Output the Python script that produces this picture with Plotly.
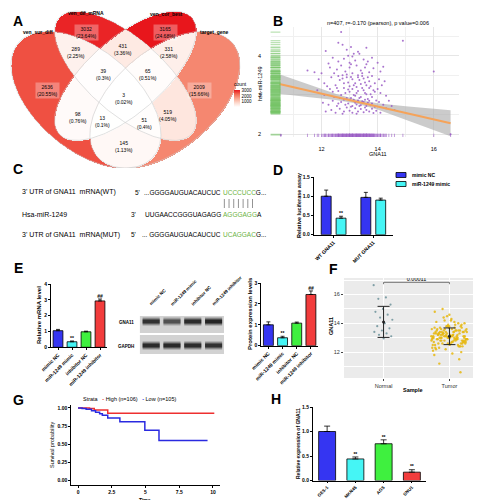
import numpy as np
import plotly.graph_objects as go

W, H = 481, 500
SANS = "Liberation Sans, Arial, sans-serif"

# ======================= DATA =======================
# A  Venn diagram
venn_set_names = ["ven_sur_diff", "ven_dif_mRNA", "ven_cor_best", "target_gene"]
venn_region_keys = ["A", "B", "C", "D", "AB", "BC", "CD", "ABC", "BCD", "ABCD", "AC", "BD", "ACD", "ABD", "AD"]
venn_counts = [2636, 3032, 3165, 2009, 289, 431, 331, 39, 65, 3, 98, 519, 13, 51, 145]
venn_percents = ["20.55%", "23.64%", "24.68%", "15.66%", "2.25%", "3.36%", "2.58%", "0.3%",
                 "0.51%", "0.02%", "0.76%", "4.05%", "0.1%", "0.4%", "1.13%"]
venn_colorbar_ticks = [1000, 2000, 3000]

# B  correlation scatter
b_title = "n=407, r=-0.170 (pearson), p value=0.006"
gna11_x = [
    12.7, 12.6, 12.75, 13.05, 12.9, 13.6, 14.9, 12.15, 13.3,
    12.4, 12.8, 13.1, 13.35, 12.6, 13.0, 13.5, 13.8, 12.95, 13.2, 14.0, 12.25, 13.65, 13.15,
    11.5, 11.75, 12.0, 12.3, 12.55, 12.7, 12.85, 13.0, 13.1, 13.25, 13.4, 13.55, 13.7, 13.85, 14.1, 12.9,
    13.3, 13.6, 12.45, 16.0, 13.05, 13.45, 12.75, 14.2,
    11.9, 12.1, 12.35, 12.5, 12.65, 12.8, 12.9, 13.0, 13.1, 13.2, 13.3, 13.4, 13.5, 13.6, 13.7, 13.8, 13.9,
    14.05, 14.25, 12.6, 12.95, 13.15, 13.35, 13.55, 13.75, 13.05, 12.75, 13.25, 13.65, 14.15, 12.2, 13.45,
    11.85, 12.1, 12.3, 12.45, 12.6, 12.7, 12.8, 12.9, 13.0, 13.1, 13.2, 13.3, 13.4, 13.5, 13.6, 13.7, 13.8,
    13.9, 14.0, 14.3, 12.55, 12.85, 13.05, 13.25, 13.45, 13.65, 13.85, 12.95, 13.15, 13.35, 13.55, 13.75,
    12.65, 14.1, 12.4,
    12.05, 12.25, 12.4, 12.55, 12.7, 12.85, 13.0, 13.1, 13.2, 13.3, 13.4, 13.5, 13.6, 13.7, 13.8, 13.9,
    14.05, 14.2, 14.4, 12.95, 13.15, 13.35, 13.55, 13.75, 12.8, 13.05, 13.25, 13.45, 13.65, 14.5, 12.6, 13.95,
    12.15, 12.35, 12.5, 12.65, 12.8, 12.9, 13.0, 13.1, 13.2, 13.3, 13.4, 13.5, 13.6, 13.7, 13.8, 13.95,
    14.1, 14.3, 12.75, 13.25, 13.55, 13.85, 14.6,
    10.55, 16.6]
mir1249_y = [
    4.6, 4.33, 4.28, 4.22, 4.15, 4.2, 4.38, 4.12, 4.1,
    3.95, 3.92, 3.98, 4.05, 3.85, 3.82, 3.9, 3.95, 4.0, 3.88, 3.82, 3.8, 3.85, 4.05,
    3.62, 3.58, 3.55, 3.7, 3.65, 3.75, 3.6, 3.7, 3.55, 3.75, 3.62, 3.7, 3.58, 3.68, 3.6, 3.52,
    3.5, 3.78, 3.55, 3.6, 3.78, 3.55, 3.5, 3.72,
    3.4, 3.3, 3.45, 3.25, 3.38, 3.3, 3.45, 3.22, 3.4, 3.3, 3.45, 3.28, 3.42, 3.25, 3.35, 3.48, 3.3,
    3.4, 3.35, 3.48, 3.32, 3.25, 3.38, 3.32, 3.22, 3.46, 3.42, 3.2, 3.45, 3.25, 3.22, 3.48,
    3.12, 3.0, 3.15, 2.95, 3.1, 3.0, 3.18, 2.92, 3.08, 3.15, 2.98, 3.1, 2.95, 3.12, 3.02, 3.18, 2.95,
    3.08, 3.15, 2.98, 3.18, 3.05, 2.92, 3.05, 3.18, 2.9, 3.12, 3.14, 3.0, 2.92, 3.05, 3.02,
    2.92, 3.05, 3.08,
    2.8, 2.75, 2.85, 2.72, 2.82, 2.75, 2.88, 2.72, 2.8, 2.86, 2.74, 2.82, 2.72, 2.85, 2.78, 2.7,
    2.82, 2.75, 2.85, 2.78, 2.88, 2.72, 2.88, 2.74, 2.88, 2.7, 2.76, 2.84, 2.8, 2.72, 2.78, 2.86,
    2.58, 2.62, 2.55, 2.65, 2.58, 2.68, 2.6, 2.55, 2.66, 2.58, 2.64, 2.56, 2.62, 2.58, 2.65, 2.6,
    2.55, 2.66, 2.52, 2.52, 2.68, 2.54, 2.62,
    1.98, 2.0]
fit_x = [10.5, 16.6]
fit_y = [3.28, 2.28]
band_x = [10.5, 11.5, 12.5, 13.2, 14.0, 15.0, 16.0, 16.6]
band_hi = [3.53, 3.29, 3.03, 2.89, 2.79, 2.71, 2.65, 2.61]
band_lo = [3.03, 2.95, 2.87, 2.79, 2.63, 2.37, 2.11, 1.95]

# C  binding sites
c_row_labels = ["3' UTR of GNA11&nbsp; mRNA(WT)", "Hsa-miR-1249", "3' UTR of GNA11&nbsp; mRNA(MUT)"]
c_primes = ["5'", "3'", "5'"]
c_seq_before = ["...GGGGAUGUACAUCUC", "UUGAACCGGGUAGAGG", "... GGGGAUGUACAUCUC"]
c_seq_site = ["UCCCUCC", "AGGGAGG", "UCAGGAC"]
c_seq_after = ["G...", "A", "G..."]

# D  luciferase
luc_groups = ["WT GNA11", "MUT GNA11"]
luc_series = ["mimic NC", "miR-1249 mimic"]
luc_nc = [1.0, 0.97]
luc_nc_err = [0.16, 0.13]
luc_mimic = [0.43, 0.90]
luc_mimic_err = [0.05, 0.05]
luc_mimic_sig = ["**", ""]

# E  mRNA / western blot / protein
e_groups = ["mimic NC", "miR-1249 mimic", "inhibitor NC", "miR-1249 inhibitor"]
mrna_level = [1.05, 0.35, 0.98, 2.93]
mrna_err = [0.08, 0.05, 0.04, 0.12]
mrna_sig = ["", "**", "", "##"]
protein_level = [1.0, 0.38, 1.08, 2.45]
protein_err = [0.14, 0.07, 0.05, 0.17]
protein_sig = ["", "**", "", "##"]
blot_rows = ["GNA11", "GAPDH"]
gna11_band = [0.85, 0.62, 0.9, 0.97]
gapdh_band = [0.9, 0.92, 0.9, 0.86]

# F  GNA11 expression Normal vs Tumor
f_groups = ["Normal", "Tumor"]
f_mean = [14.1, 13.1]
f_sd = [1.08, 0.58]
f_pvalue = "0.00011"
normal_y = [16.65, 15.8, 15.7, 15.3, 15.0, 14.8, 14.6, 14.4, 14.25, 14.0, 13.8, 13.65,
            13.5, 13.4, 13.3, 13.2, 13.1, 12.95]
tumor_y = [13.1, 12.8, 13.4, 12.6, 13.0, 13.7, 12.9, 13.3, 13.5, 12.7,
           13.2, 12.4, 13.8, 13.0, 12.9, 13.6, 13.1, 12.5, 13.3, 14.0,
           12.8, 13.4, 13.2, 12.3, 13.9, 13.0, 12.7, 13.5, 12.6, 13.1,
           14.2, 12.9, 13.3, 12.2, 13.6, 13.0, 12.8, 13.4, 13.7, 12.5,
           13.2, 14.4, 12.9, 13.1, 12.6, 13.8, 13.3, 12.1, 13.5, 13.0,
           12.7, 13.2, 14.1, 12.4, 13.6, 12.9, 13.4, 13.0, 12.8, 13.9,
           11.8, 13.1, 13.3, 12.6, 14.3, 12.9, 13.5, 13.2, 12.3, 13.7,
           13.0, 12.8, 14.6, 13.4, 12.5, 13.1, 13.6, 12.7, 13.3, 12.0,
           13.8, 13.0, 12.9, 13.2, 14.0, 12.6, 13.5, 11.5, 13.1, 12.8,
           13.4, 13.7, 12.4, 13.0, 14.8, 12.9, 13.3, 12.7, 13.6, 13.2,
           10.6, 13.1, 12.5, 13.9, 12.8, 13.4, 13.0, 12.2, 13.5, 14.2,
           12.9, 13.2, 11.2, 13.7, 12.6, 13.3, 13.0, 15.0, 12.8, 13.1,
           13.6, 12.4, 13.4, 12.9, 14.1, 13.2, 12.7, 13.8, 12.3, 13.0,
           13.5, 12.9, 11.9, 13.3, 12.6, 14.5, 13.1, 12.8, 13.4, 13.0]

# G  survival
g_strata = ["High (n=106)", "Low (n=105)"]
high_time = [0, 0.85, 1.2, 2.2, 10.1]
high_surv = [1.0, 0.99, 0.97, 0.925, 0.925]
low_time = [0, 0.3, 0.6, 1.0, 1.3, 1.6, 1.8, 2.2, 3.1, 4.95, 6.0, 9.6]
low_surv = [1.0, 0.99, 0.98, 0.96, 0.94, 0.92, 0.90, 0.86, 0.81, 0.69, 0.55, 0.55]
g_xticks = [0, 2.5, 5, 7.5, 10]
g_yticks = [0, 0.25, 0.5, 0.75, 1.0]

# H  cell lines
h_cells = ["GES-1", "MKN45", "AGS", "SNU1"]
h_rel = [1.0, 0.44, 0.75, 0.17]
h_err = [0.11, 0.04, 0.08, 0.05]
h_sig = ["", "**", "**", "**"]

# ======================= STYLE / HELPERS =======================
BLUE, CYAN, GREEN, RED = "#3535f2", "#45f5f5", "#3ff03f", "#f23c3c"
BAR4 = [BLUE, CYAN, GREEN, RED]


def fx(p):
    return p / W


def fy(p):
    return 1 - p / H


annotations = []
shapes = []


def note(text, x, y, size=6, bold=False, color="black", xanchor="center", yanchor="middle",
         angle=0, family=SANS, **kw):
    annotations.append(dict(text=text, x=fx(x), y=fy(y), xref="paper", yref="paper", showarrow=False,
                            xanchor=xanchor, yanchor=yanchor, textangle=angle,
                            font=dict(size=size, color=color, family=family,
                                      weight="bold" if bold else "normal"), **kw))


def gp_axis(dom, rng, **kw):
    d = dict(domain=dom, range=rng, showgrid=False, zeroline=False, showline=True, linecolor="black",
             linewidth=1, ticks="outside", ticklen=2, tickwidth=1, tickcolor="black", automargin=False,
             tickfont=dict(size=5, family=SANS, color="black", weight="bold"), fixedrange=True)
    d.update(kw)
    return d


fig = go.Figure()

# ======================= A: Venn =======================
gx = np.arange(0, 241)
gy = np.arange(0, 161)
GX, GY = np.meshgrid(gx, gy)


def to_unit(px, py):
    return 0.065 + (px - 3) / 263.0, 0.84 - (py - 3) / 240.0


def to_px(u, v):
    return 3 + (u - 0.065) * 263.0, 3 + (0.84 - v) * 240.0


ELL = {"A": (0.35, 0.47, 0.35, 0.20, 135), "B": (0.50, 0.57, 0.35, 0.15, 135),
       "C": (0.50, 0.57, 0.35, 0.15, 45), "D": (0.65, 0.47, 0.35, 0.20, 45)}
U, V = to_unit(GX, GY)


def inside(e, u, v):
    cu, cv, a, b, r = e
    t = np.radians(r)
    du, dv = u - cu, v - cv
    xp = du * np.cos(t) + dv * np.sin(t)
    yp = -du * np.sin(t) + dv * np.cos(t)
    return (xp / a) ** 2 + (yp / b) ** 2 <= 1.0


masks = {k: inside(e, U, V) for k, e in ELL.items()}
Z = np.full(GX.shape, np.nan)
for key, cnt in zip(venn_region_keys, venn_counts):
    m = np.ones(GX.shape, dtype=bool)
    for s in "ABCD":
        m &= masks[s] if s in key else ~masks[s]
    Z[m] = cnt

venn_scale = [[0, "#ffffff"], [0.25, "#fdd8cc"], [0.5, "#f9a68f"], [0.75, "#f26c55"], [1, "#e8161c"]]
fig.add_trace(go.Heatmap(x=gx, y=gy, z=Z, xaxis="x", yaxis="y", colorscale=venn_scale, zmin=3,
                         zmax=3165, hoverinfo="skip",
                         colorbar=dict(x=fx(226), xanchor="left", y=fy(71), yanchor="top",
                                       lenmode="pixels", len=28, thicknessmode="pixels", thickness=6,
                                       outlinewidth=0, tickvals=venn_colorbar_ticks, ticks="",
                                       tickfont=dict(size=4.5, family=SANS), xpad=0, ypad=0,
                                       title=dict(text="count", side="top",
                                                  font=dict(size=5, family=SANS)))))
tt = np.linspace(0, 2 * np.pi, 240)
for k, (cu, cv, a, b, r) in ELL.items():
    th = np.radians(r)
    uu = cu + a * np.cos(tt) * np.cos(th) - b * np.sin(tt) * np.sin(th)
    vv = cv + a * np.cos(tt) * np.sin(th) + b * np.sin(tt) * np.cos(th)
    px_, py_ = to_px(uu, vv)
    fig.add_trace(go.Scatter(x=px_, y=py_, mode="lines", xaxis="x", yaxis="y",
                             line=dict(color="rgba(205,205,205,0.9)", width=0.7), hoverinfo="skip"))

venn_label_px = {"A": (39, 82), "B": (78, 24), "C": (157, 24), "D": (191, 82), "AB": (68, 45),
                 "BC": (115, 42), "CD": (161, 45), "ABC": (95, 66), "BCD": (140, 66), "ABCD": (116, 91),
                 "AC": (70, 110), "BD": (160, 108), "ACD": (94, 114), "ABD": (136, 116), "AD": (116, 138)}
for key, cnt, pct in zip(venn_region_keys, venn_counts, venn_percents):
    x, y = venn_label_px[key]
    big = cnt > 1500
    note(f"{cnt}<br>({pct})", x, y, size=5, bgcolor="rgba(255,255,255,0.3)" if big else None)
set_label_px = [(30, 24), (78, 5), (158, 6), (206, 24)]
for name, (x, y) in zip(venn_set_names, set_label_px):
    note(name, x, y, size=5, bold=True)

# ======================= B: scatter =======================
fig.add_trace(go.Scatter(x=band_x + band_x[::-1], y=band_hi + band_lo[::-1], fill="toself",
                         fillcolor="rgba(175,175,175,0.65)", line=dict(width=0), mode="lines",
                         xaxis="x2", yaxis="y2", hoverinfo="skip"))
fig.add_trace(go.Scatter(x=gna11_x, y=mir1249_y, mode="markers", xaxis="x2", yaxis="y2",
                         marker=dict(size=2, color="#9a5cc6", opacity=0.85)))
fig.add_trace(go.Scatter(x=fit_x, y=fit_y, mode="lines", xaxis="x2", yaxis="y2",
                         line=dict(color="#f5a35a", width=2)))
fig.add_trace(go.Scatter(x=gna11_x, y=[1.96] * len(gna11_x), mode="markers", xaxis="x2", yaxis="y2",
                         marker=dict(symbol="line-ns", size=3, line=dict(width=0.6, color="#9a5cc6"))))
fig.add_trace(go.Scatter(x=gna11_x, y=[1.77] * len(gna11_x), mode="markers", xaxis="x2", yaxis="y2",
                         cliponaxis=False,
                         marker=dict(symbol="line-ns", size=6, line=dict(width=0.6, color="#74c264"))))
fig.add_trace(go.Scatter(x=[10.36] * len(mir1249_y), y=mir1249_y, mode="markers", xaxis="x2", yaxis="y2",
                         cliponaxis=False,
                         marker=dict(symbol="line-ew", size=7, line=dict(width=0.6, color="#74c264"))))
note(b_title, 370, 15, size=5.5)
note("GNA11", 370, 146, size=5.5)
note("hsa-miR-1249", 252, 76, size=5.5, angle=-90)

# ======================= C: sequences =======================
row_y = [184, 207, 227]
prime_x = [126, 122, 122]
site_x = 214
SEQ = 6.5
for lab, y in zip(c_row_labels, row_y):
    note(lab, 12, y, size=7, xanchor="left")
for pr, pre, site, post, y, px0 in zip(c_primes, c_seq_before, c_seq_site, c_seq_after, row_y, prime_x):
    note(pr, px0, y, size=SEQ, xanchor="left", borderpad=0)
    note(pre, site_x, y, size=SEQ, xanchor="right", borderpad=0)
    note(f"<span style='color:#6cb33f'>{site}</span>{post}", site_x, y, size=SEQ, xanchor="left",
         borderpad=0)
letter_w = 0.722 * SEQ
for i in range(len(c_seq_site[0])):
    xx = site_x + letter_w * (i + 0.5)
    shapes.append(dict(type="line", xref="paper", yref="paper", x0=fx(xx), x1=fx(xx), y0=fy(191),
                       y1=fy(200), line=dict(color="#777777", width=0.8)))

# ======================= D: luciferase =======================
d_w = 0.25
d_off = [-0.31, 0.065]
for vals, errs, col, off in [(luc_nc, luc_nc_err, BLUE, d_off[0]), (luc_mimic, luc_mimic_err, CYAN, d_off[1])]:
    fig.add_trace(go.Bar(x=list(range(len(luc_groups))), y=vals, width=d_w, offset=off, xaxis="x3",
                         yaxis="y3", marker=dict(color=col, line=dict(color="black", width=0.8)),
                         error_y=dict(type="data", array=errs, symmetric=False,
                                      arrayminus=[0] * len(errs), color="black", thickness=0.8, width=2)))
fig.add_trace(go.Scatter(x=[i + d_off[1] + d_w / 2 for i in range(len(luc_groups))],
                         y=[v + e for v, e in zip(luc_mimic, luc_mimic_err)], mode="text",
                         text=luc_mimic_sig, textposition="top center", xaxis="x3", yaxis="y3",
                         textfont=dict(size=5, family=SANS, weight="bold")))
note("Relative luciferase assay", 291, 197, size=5.5, bold=True, angle=-90)
for i, (name, col) in enumerate(zip(luc_series, [BLUE, CYAN])):
    yy = 167 + i * 9
    shapes.append(dict(type="rect", xref="paper", yref="paper", x0=fx(388), x1=fx(398), y0=fy(yy - 2.5),
                       y1=fy(yy + 2.5), fillcolor=col, line=dict(color="black", width=0.8)))
    note(name, 402, yy, size=5, bold=True, xanchor="left")

# ======================= E: mRNA, blot, protein =======================
for vals, errs, sig, xa, ya in [(mrna_level, mrna_err, mrna_sig, "x4", "y4"),
                                (protein_level, protein_err, protein_sig, "x6", "y6")]:
    fig.add_trace(go.Bar(x=list(range(4)), y=vals, width=0.7, xaxis=xa, yaxis=ya,
                         marker=dict(color=BAR4, line=dict(color="black", width=0.8)),
                         error_y=dict(type="data", array=errs, symmetric=False, arrayminus=[0] * 4,
                                      color="black", thickness=0.8, width=2)))
    fig.add_trace(go.Scatter(x=list(range(4)), y=[v + e for v, e in zip(vals, errs)], mode="text",
                             text=sig, textposition="top center", xaxis=xa, yaxis=ya,
                             textfont=dict(size=5, family=SANS, weight="bold")))
note("Relative mRNA level", 31, 307, size=6, bold=True, angle=-90)
note("Protein expression levels", 242, 306, size=6, bold=True, angle=-90)

shapes.append(dict(type="rect", xref="x5", yref="y5", x0=-0.55, x1=3.5, y0=25, y1=42,
                   fillcolor="#d2d2d2", line=dict(width=0), layer="below"))
shapes.append(dict(type="rect", xref="x5", yref="y5", x0=-0.55, x1=3.5, y0=4, y1=23,
                   fillcolor="#d2d2d2", line=dict(width=0), layer="below"))
for inten, center in [(gna11_band, 36.5), (gapdh_band, 12.5)]:
    for hgt, alpha in [(9, 0.18), (6.5, 0.4), (4, 0.85)]:
        fig.add_trace(go.Bar(x=list(range(4)), y=[hgt] * 4, base=[center - hgt / 2] * 4, width=0.82,
                             xaxis="x5", yaxis="y5",
                             marker=dict(color=[f"rgba(20,20,20,{alpha * v:.3f})" for v in inten],
                                         line=dict(width=0))))
for i, lane in enumerate(e_groups):
    annotations.append(dict(text=lane, x=i - 0.25, y=fy(301), xref="x5", yref="paper", showarrow=False,
                            xanchor="left", yanchor="bottom", textangle=-45,
                            font=dict(size=4.5, family=SANS, weight="bold")))
for name, y in zip(blot_rows, [314, 338]):
    note(name, 128, y, size=4.5, bold=True, xanchor="right")

# ======================= F: expression jitter =======================
shapes.append(dict(type="rect", xref="x7 domain", yref="y7 domain", x0=0, x1=1, y0=0, y1=1,
                   fillcolor="#ebebeb", line=dict(width=0), layer="below"))
n_off = ((np.arange(len(normal_y)) * 0.618034) % 1 - 0.5) * 0.3
t_off = ((np.arange(len(tumor_y)) * 0.618034) % 1 - 0.5) * 0.55
fig.add_trace(go.Scatter(x=1 + n_off, y=normal_y, mode="markers", xaxis="x7", yaxis="y7",
                         marker=dict(size=2.2, color="#7f9fa6")))
fig.add_trace(go.Scatter(x=2 + t_off, y=tumor_y, mode="markers", xaxis="x7", yaxis="y7",
                         marker=dict(size=2.4, color="#e6b70f", opacity=0.85)))
fig.add_trace(go.Scatter(x=[1, 2], y=f_mean, mode="markers", xaxis="x7", yaxis="y7",
                         marker=dict(size=3, color="#222222"),
                         error_y=dict(type="data", array=f_sd, color="#222222", thickness=1, width=6)))
fig.add_trace(go.Scatter(x=[1, 1, 2, 2], y=[16.72, 16.85, 16.85, 16.72], mode="lines", xaxis="x7",
                         yaxis="y7", line=dict(color="#555555", width=0.8), hoverinfo="skip"))
fig.add_trace(go.Scatter(x=[1.5], y=[16.85], mode="text", text=[f_pvalue], textposition="top center",
                         xaxis="x7", yaxis="y7", textfont=dict(size=5.5, family=SANS)))
note("GNA11", 323, 318, size=5.5, bold=True, angle=-90)
note("Sample", 405, 382, size=5.5, bold=True)

# ======================= G: survival =======================
fig.add_trace(go.Scatter(x=high_time, y=high_surv, mode="lines", line_shape="hv", xaxis="x8", yaxis="y8",
                         line=dict(color="#ee3030", width=1.5)))
fig.add_trace(go.Scatter(x=low_time, y=low_surv, mode="lines", line_shape="hv", xaxis="x8", yaxis="y8",
                         line=dict(color="#2a2ae0", width=1.5)))
note("Strata&nbsp;&nbsp;&nbsp;<span style='color:#ee3030'><b>-</b></span> " + g_strata[0] +
     "&nbsp;&nbsp;&nbsp;<span style='color:#2a2ae0'><b>-</b></span> " + g_strata[1],
     73, 391, size=5.5, xanchor="left")
note("Survival probability", 44, 437, size=5.5, angle=-90)
note("Time", 137, 491.5, size=5, bold=True, borderpad=0)

# ======================= H: cell lines =======================
fig.add_trace(go.Bar(x=list(range(4)), y=h_rel, width=0.6, xaxis="x9", yaxis="y9",
                     marker=dict(color=BAR4, line=dict(color="black", width=0.8)),
                     error_y=dict(type="data", array=h_err, symmetric=False, arrayminus=[0] * 4,
                                  color="black", thickness=0.8, width=3)))
fig.add_trace(go.Scatter(x=list(range(4)), y=[v + e for v, e in zip(h_rel, h_err)], mode="text",
                         text=h_sig, textposition="top center", xaxis="x9", yaxis="y9",
                         textfont=dict(size=5, family=SANS, weight="bold")))
note("Relative expression of GNA11", 290, 436, size=5, bold=True, angle=-90)

# ======================= Panel letters =======================
for L, x, y in [("A", 10, 13), ("B", 270, 13), ("C", 10, 161), ("D", 270, 162), ("E", 10, 260),
                ("F", 325, 261), ("G", 10, 392), ("H", 268, 391)]:
    note(L, x, y, size=14, bold=True)

# ======================= LAYOUT =======================
hidden = dict(visible=False, fixedrange=True, automargin=False)
four_ticks = dict(tickvals=list(range(4)), tickangle=-45)
layout = dict(
    width=W, height=H, margin=dict(l=0, r=0, t=0, b=0, autoexpand=False), paper_bgcolor="white",
    plot_bgcolor="rgba(0,0,0,0)", showlegend=False, barmode="overlay",
    font=dict(family=SANS, color="black"),
    xaxis=dict(domain=[0, fx(240)], range=[0, 240], anchor="y", **hidden),
    yaxis=dict(domain=[fy(160), 1], range=[160, 0], anchor="x", **hidden),
    xaxis2=dict(domain=[fx(263), fx(451)], range=[10.2, 16.9], anchor="y2", tickvals=[12, 14, 16],
                showgrid=True, gridcolor="#e6e6e6", gridwidth=0.6, zeroline=False, showline=False,
                ticks="", ticklabelstandoff=7, tickfont=dict(size=5.5, family=SANS), fixedrange=True,
                automargin=False,
                minor=dict(tickvals=[11, 13, 15], showgrid=True, gridcolor="#f0f0f0", gridwidth=0.4)),
    yaxis2=dict(domain=[fy(129), fy(19)], range=[1.93, 4.73], anchor="x2", tickvals=[2, 3, 4],
                showgrid=True, gridcolor="#e6e6e6", gridwidth=0.6, zeroline=False, showline=False,
                ticks="", ticklabelstandoff=9, tickfont=dict(size=5.5, family=SANS), fixedrange=True,
                automargin=False,
                minor=dict(tickvals=[2.5, 3.5, 4.5], showgrid=True, gridcolor="#f0f0f0", gridwidth=0.4)),
    xaxis3=gp_axis([fx(305.7), fx(385)], [-0.5, 1.5], anchor="y3", tickvals=[0, 1], ticktext=luc_groups,
                   tickangle=-45),
    yaxis3=gp_axis([fy(226.7), fy(169)], [0, 1.5], anchor="x3", tickvals=[0, 0.5, 1.0, 1.5],
                   ticktext=["0.0", "0.5", "1.0", "1.5"]),
    xaxis4=gp_axis([fx(43), fx(99)], [-0.5, 3.5], anchor="y4", ticktext=e_groups, **four_ticks),
    yaxis4=gp_axis([fy(339.3), fy(276)], [0, 4], anchor="x4", tickvals=[0, 1, 2, 3, 4]),
    xaxis5=dict(domain=[fx(131.7), fx(216)], range=[-0.55, 3.5], anchor="y5", **hidden),
    yaxis5=dict(domain=[fy(350), fy(300)], range=[0, 50], anchor="x5", **hidden),
    xaxis6=gp_axis([fx(253.3), fx(310)], [-0.5, 3.5], anchor="y6", ticktext=e_groups, **four_ticks),
    yaxis6=gp_axis([fy(337.7), fy(275)], [0, 3], anchor="x6", tickvals=[0, 1, 2, 3]),
    xaxis7=dict(domain=[fx(336), 1.0], range=[0.4, 2.6], anchor="y7", tickvals=[1, 2], ticktext=f_groups,
                showgrid=True, gridcolor="white", gridwidth=1, zeroline=False, showline=False,
                ticks="outside", ticklen=2, tickcolor="#444", automargin=False,
                tickfont=dict(size=5.5, family=SANS, color="#333"), fixedrange=True),
    yaxis7=dict(domain=[fy(370), fy(270)], range=[10.2, 17.15], anchor="x7", tickvals=[12, 14, 16],
                showgrid=True, gridcolor="white", gridwidth=1, zeroline=False, showline=False,
                ticks="outside", ticklen=2, tickcolor="#444", automargin=False,
                tickfont=dict(size=5.5, family=SANS, color="#333"), fixedrange=True,
                minor=dict(tickvals=[11, 13, 15, 17], showgrid=True, gridcolor="white", gridwidth=0.5)),
    xaxis8=gp_axis([fx(63.3), fx(211.7)], [-0.5, 10.5], anchor="y8", tickvals=g_xticks,
                   ticktext=["0", "2.5", "5", "7.5", "10"], ticklen=2),
    yaxis8=gp_axis([fy(477), fy(397)], [-0.065, 1.04], anchor="x8", tickvals=g_yticks,
                   ticktext=["0.00", "0.25", "0.50", "0.75", "1.00"], ticklen=2),
    xaxis9=gp_axis([fx(305), fx(418)], [-0.5, 3.5], anchor="y9", ticktext=h_cells, ticklen=1.5,
                   tickfont=dict(size=4.5, family=SANS, color="black", weight="bold"), **four_ticks),
    yaxis9=gp_axis([fy(472.5), fy(399)], [0, 1.5], anchor="x9", tickvals=[0, 0.5, 1.0, 1.5],
                   ticktext=["0.0", "0.5", "1.0", "1.5"]),
    annotations=annotations, shapes=shapes,
)
fig.update_layout(**layout)
fig.write_html("out.html")
